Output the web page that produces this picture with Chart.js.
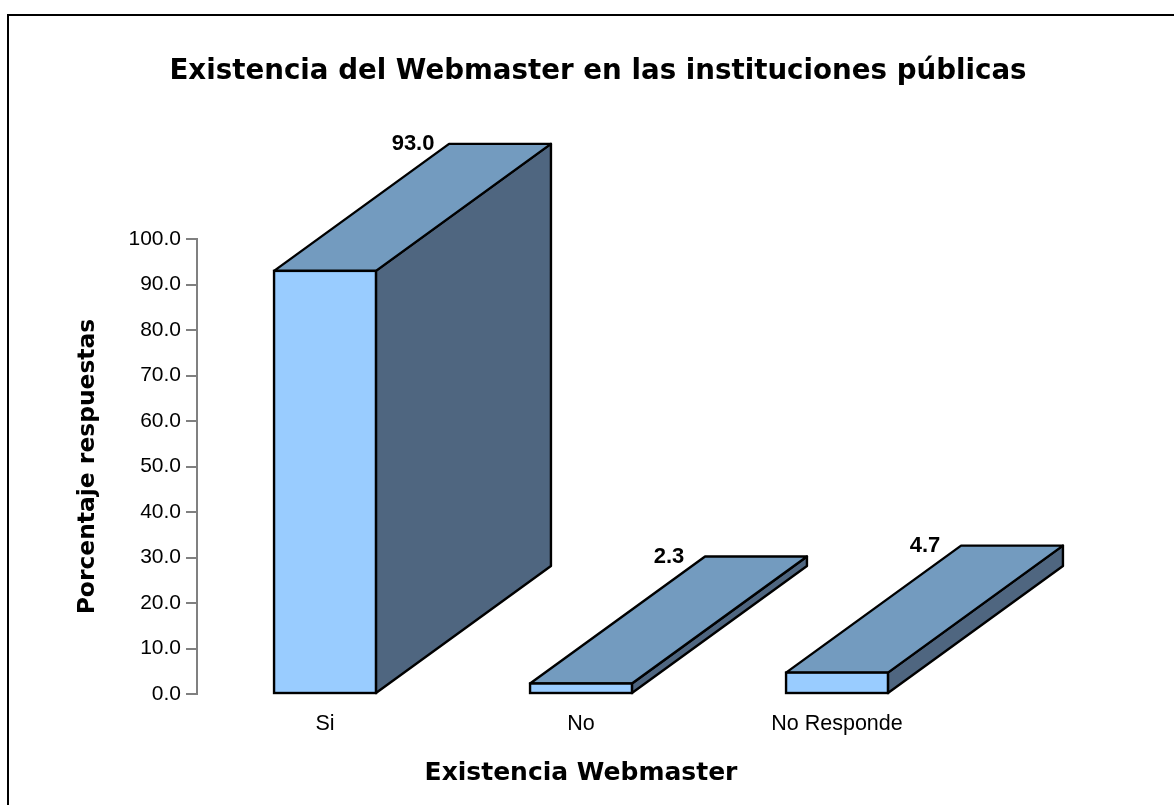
<!DOCTYPE html>
<html lang="es">
<head>
<meta charset="utf-8">
<title>Existencia del Webmaster</title>
<script src="https://cdn.jsdelivr.net/npm/chart.js@4/dist/chart.umd.min.js"></script>
<style>
html,body{margin:0;padding:0;width:1174px;height:805px;overflow:hidden;background:#fff}
#frame{position:absolute;left:7px;top:14px;width:1300px;height:900px;border:2px solid #000;box-sizing:border-box}
#wrap{position:absolute;left:0;top:0;width:1174px;height:805px}
</style>
</head>
<body>
<div id="frame"></div>
<div id="wrap"><canvas id="c" width="1174" height="805"></canvas></div>
<script>
const categories = ['Si', 'No', 'No Responde'];
const percentages = [93.0, 2.3, 4.7];
const chartTitle = 'Existencia del Webmaster en las instituciones públicas';
const xAxisTitle = 'Existencia Webmaster';
const yAxisTitle = 'Porcentaje respuestas';

const headFamily = '"DejaVu Sans"';
const bodyFamily = '"Liberation Sans"';
const DEPTH_X = 175, DEPTH_Y = -127;

const extrude = {
  id: 'extrude',
  afterLayout(chart) { chart.titleBlock.left = 22; chart.titleBlock.right = 1174; },
  beforeDatasetsDraw(chart) {
    const ctx = chart.ctx;
    ctx.save();
    ctx.lineWidth = 2.4;
    ctx.strokeStyle = '#000';
    ctx.lineJoin = 'round';
    chart.getDatasetMeta(0).data.forEach(bar => {
      const l = bar.x - bar.width / 2, r = bar.x + bar.width / 2, t = bar.y, b = bar.base;
      ctx.beginPath();
      ctx.moveTo(r, t); ctx.lineTo(r + DEPTH_X, t + DEPTH_Y);
      ctx.lineTo(r + DEPTH_X, b + DEPTH_Y); ctx.lineTo(r, b); ctx.closePath();
      ctx.fillStyle = '#4F6680'; ctx.fill(); ctx.stroke();
      ctx.beginPath();
      ctx.moveTo(l, t); ctx.lineTo(l + DEPTH_X, t + DEPTH_Y);
      ctx.lineTo(r + DEPTH_X, t + DEPTH_Y); ctx.lineTo(r, t); ctx.closePath();
      ctx.fillStyle = '#739BBF'; ctx.fill(); ctx.stroke();
    });
    ctx.restore();
  },
  afterDatasetsDraw(chart) {
    const ctx = chart.ctx;
    ctx.save();
    ctx.lineWidth = 2.4;
    ctx.strokeStyle = '#000';
    ctx.fillStyle = '#000';
    ctx.font = 'bold 22px ' + bodyFamily;
    ctx.textAlign = 'center';
    ctx.textBaseline = 'middle';
    chart.getDatasetMeta(0).data.forEach((bar, i) => {
      const l = bar.x - bar.width / 2, t = bar.y;
      ctx.strokeRect(l, t, bar.width, bar.base - t);
      ctx.fillText(percentages[i].toFixed(1), l + DEPTH_X - 36, t + DEPTH_Y);
    });
    ctx.restore();
  }
};

new Chart(document.getElementById('c'), {
  type: 'bar',
  data: {
    labels: categories,
    datasets: [{
      data: percentages,
      backgroundColor: '#99CCFF',
      borderWidth: 0,
      barPercentage: 0.398,
      categoryPercentage: 1
    }]
  },
  plugins: [extrude],
  options: {
    responsive: false,
    animation: false,
    layout: { autoPadding: false, padding: { left: 0, right: 209, top: 0, bottom: 0 } },
    plugins: {
      legend: { display: false },
      tooltip: { enabled: false },
      title: {
        display: true,
        text: chartTitle,
        color: '#000',
        font: { family: headFamily, size: 27.7, weight: 'bold', lineHeight: 1.2 },
        padding: { top: 55.4, bottom: 150.4 }
      }
    },
    scales: {
      x: {
        afterFit(s) { s.height = 111; },
        grid: { display: false },
        border: { display: false },
        ticks: { color: '#000', padding: 9, font: { family: bodyFamily, size: 21.5 } },
        title: {
          display: true,
          text: xAxisTitle,
          color: '#000',
          font: { family: headFamily, size: 25, weight: 'bold', lineHeight: 1.2 },
          padding: { top: 0, bottom: 17 }
        }
      },
      y: {
        min: 0,
        max: 100,
        afterFit(s) { s.width = 197; },
        grid: { drawOnChartArea: false, drawTicks: true, tickLength: 11, color: '#808080', lineWidth: 2 },
        border: { display: true, color: '#808080', width: 2 },
        ticks: {
          stepSize: 10,
          color: '#000',
          padding: 5,
          font: { family: bodyFamily, size: 21 },
          callback: v => v.toFixed(1)
        },
        title: {
          display: true,
          text: yAxisTitle,
          color: '#000',
          font: { family: headFamily, size: 23.4, weight: 'bold', lineHeight: 1.2 },
          padding: { top: 74, bottom: 0 }
        }
      }
    }
  }
});
</script>
</body>
</html>
